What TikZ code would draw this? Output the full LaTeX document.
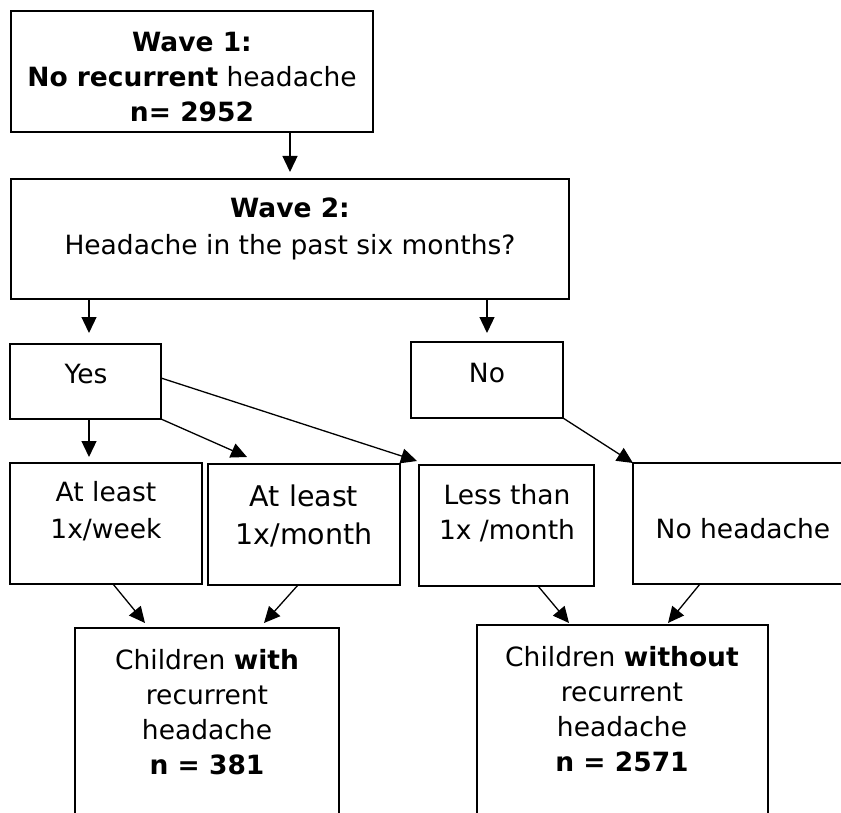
\documentclass[tikz,border=0pt]{standalone}
\usepackage{fontspec}
\setmainfont{DejaVu Sans}
\usetikzlibrary{arrows.meta,calc}
\tikzset{
  boxnode/.style={draw=black,line width=1.7pt,inner sep=0pt,outer sep=0pt},
  txt/.style={align=center,font=\fontsize{26.5}{35}\selectfont,inner sep=0pt},
  bigtxt/.style={align=center,font=\fontsize{28.5}{38}\selectfont,inner sep=0pt},
  arr/.style={line width=1.3pt,-{Triangle[length=16pt,width=15pt]}}
}
\begin{document}
\begin{tikzpicture}[x=1pt,y=-1pt]
\useasboundingbox (0,0) rectangle (841,813);
\clip (0,0) rectangle (841,813);
% boxes
\node[boxnode,minimum width=362pt,minimum height=121pt] (b1) at (192,71.5) {};
\node[boxnode,minimum width=558pt,minimum height=120pt] (b2) at (290,239) {};
\node[boxnode,minimum width=151pt,minimum height=75pt] (yes) at (85.5,381.5) {};
\node[boxnode,minimum width=152pt,minimum height=76pt] (no) at (487,380) {};
\node[boxnode,minimum width=192pt,minimum height=121pt] (ba) at (106,523.5) {};
\node[boxnode,minimum width=192pt,minimum height=121pt] (bb) at (304,524.5) {};
\node[boxnode,minimum width=175pt,minimum height=121pt] (bc) at (506.5,525.5) {};
\node[boxnode,minimum width=220pt,minimum height=121pt] (bd) at (743,523.5) {};
\node[boxnode,minimum width=264pt,minimum height=212pt] (bl) at (207,734) {};
\node[boxnode,minimum width=291pt,minimum height=215pt] (br) at (622.5,732.5) {};
% texts
\node[txt] (t1) at (192,77) {\textbf{Wave 1:}\\\textbf{No recurrent} headache\\\textbf{n= 2952}};
\node[txt] (t2) at (290,228.5) {\textbf{Wave 2:}\\[2pt]Headache in the past six months?};
\node[txt] (tyes) at (86,374) {Yes};
\node[txt] (tno) at (487,373) {No};
\node[txt] (ta) at (106,511.5) {At least\\[2pt]1x/week};
\node[bigtxt] (tb) at (304,516) {At least\\1x/month};
\node[txt] (tc) at (507,513) {Less than\\1x /month};
\node[txt] (td) at (743,529) {No headache};
\node[txt] (tl) at (207,712) {Children \textbf{with}\\recurrent\\headache\\\textbf{n = 381}};
\node[txt] (tr) at (622,709) {Children \textbf{without}\\recurrent\\headache\\\textbf{n = 2571}};
% connectors
\draw[arr] (b1.south -| b2.north) -- ($(b2.north)+(0,-7)$);
\draw[arr] ($(b2.south -| yes.north)+(3.5,0)$) -- ($(yes.north)+(3.5,-11)$);
\draw[arr] (b2.south -| no.north) -- ($(no.north)+(0,-9)$);
\draw[arr] ($(yes.south)+(3.5,0)$) -- ($(ba.north -| yes.south)+(3.5,-6)$);
\draw[arr] (yes.south east) -- ($(bb.north west)+(39,-7)$);
\draw[arr] ($(yes.east)+(0,-3.5)$) -- ($(bc.north west)+(-2,-4)$);
\draw[arr] (no.south east) -- (bd.north west);
\draw[arr] ($(ba.south)+(7,0)$) -- ($(bl.north west)+(70,-5)$);
\draw[arr] ($(bb.south)+(-6,0)$) -- ($(bl.north west)+(189,-5)$);
\draw[arr] ($(bc.south)+(31.5,0)$) -- ($(br.north west)+(92,-2)$);
\draw[arr] ($(bd.south)+(-43,0)$) -- ($(br.north west)+(191,-2)$);
\end{tikzpicture}
\end{document}
